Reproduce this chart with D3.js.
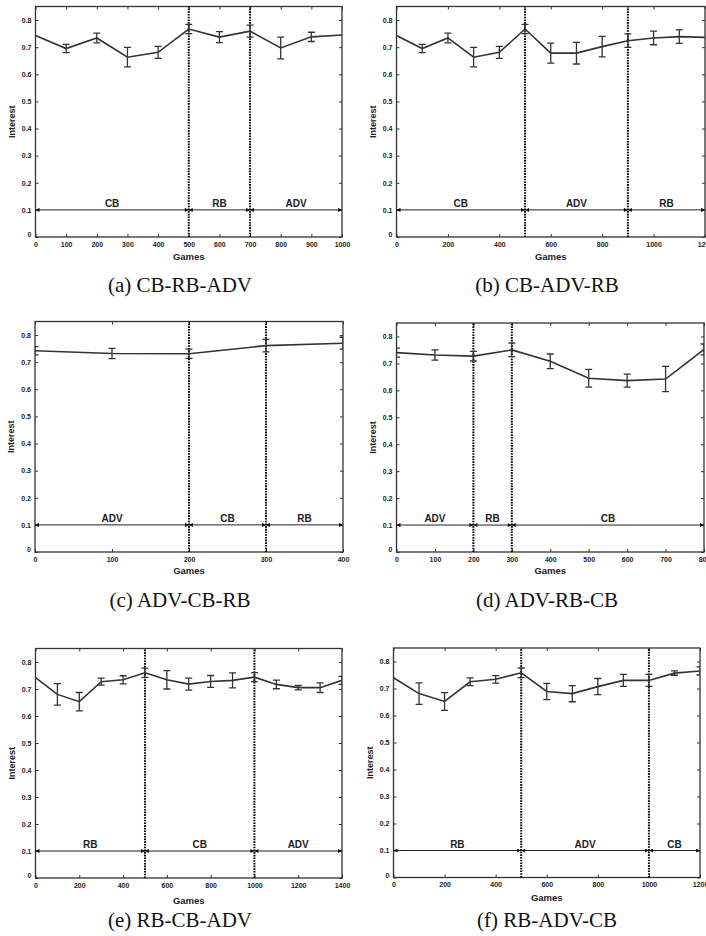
<!DOCTYPE html>
<html><head><meta charset="utf-8">
<script src="https://cdn.jsdelivr.net/npm/d3@7"></script>
<style>body{margin:0;background:#fff}svg{display:block}</style>
</head><body>
<svg id="c" width="706" height="936"></svg>
<script>
// ---------- data ----------
const yTicks = [0, 0.1, 0.2, 0.3, 0.4, 0.5, 0.6, 0.7, 0.8];
const yTickLabels = ["0", "0.1", "0.2", "0.3", "0.4", "0.5", "0.6", "0.7", "0.8"];
const captions = ["(a) CB-RB-ADV", "(b) CB-ADV-RB", "(c) ADV-CB-RB", "(d) ADV-RB-CB", "(e) RB-CB-ADV", "(f) RB-ADV-CB"];

// (a) CB-RB-ADV
const gamesA = [0, 100, 200, 300, 400, 500, 600, 700, 800, 900, 1000];
const interestA = [0.743, 0.695, 0.734, 0.663, 0.681, 0.767, 0.737, 0.759, 0.697, 0.738, 0.745];
const errA = [0, 0.015, 0.018, 0.036, 0.022, 0.017, 0.020, 0.022, 0.040, 0.017, 0];
const phasesA = ["CB", "RB", "ADV"];
const boundsA = [0, 500, 700, 1000];
const xTicksA = [0, 100, 200, 300, 400, 500, 600, 700, 800, 900, 1000];

// (b) CB-ADV-RB
const gamesB = [0, 100, 200, 300, 400, 500, 600, 700, 800, 900, 1000, 1100, 1200];
const interestB = [0.743, 0.695, 0.734, 0.663, 0.681, 0.767, 0.678, 0.678, 0.702, 0.724, 0.734, 0.739, 0.736];
const errB = [0, 0.015, 0.018, 0.036, 0.022, 0.017, 0.037, 0.040, 0.038, 0.025, 0.025, 0.025, 0];
const phasesB = ["CB", "ADV", "RB"];
const boundsB = [0, 500, 900, 1200];
const xTicksB = [0, 200, 400, 600, 800, 1000, 1200];

// (c) ADV-CB-RB
const gamesC = [0, 100, 200, 300, 400];
const interestC = [0.742, 0.732, 0.731, 0.761, 0.770];
const errC = [0.015, 0.019, 0.017, 0.023, 0.022];
const phasesC = ["ADV", "CB", "RB"];
const boundsC = [0, 200, 300, 400];
const xTicksC = [0, 100, 200, 300, 400];

// (d) ADV-RB-CB
const gamesD = [0, 100, 200, 300, 400, 500, 600, 700, 800];
const interestD = [0.740, 0.731, 0.727, 0.750, 0.708, 0.645, 0.636, 0.642, 0.752];
const errD = [0.017, 0.019, 0.018, 0.025, 0.027, 0.033, 0.024, 0.047, 0.02];
const phasesD = ["ADV", "RB", "CB"];
const boundsD = [0, 200, 300, 800];
const xTicksD = [0, 100, 200, 300, 400, 500, 600, 700, 800];

// (e) RB-CB-ADV
const gamesE = [0, 100, 200, 300, 400, 500, 600, 700, 800, 900, 1000, 1100, 1200, 1300, 1400];
const interestE = [0.742, 0.680, 0.653, 0.727, 0.734, 0.760, 0.734, 0.718, 0.728, 0.732, 0.744, 0.717, 0.705, 0.705, 0.732];
const errE = [0, 0.040, 0.034, 0.013, 0.015, 0.017, 0.034, 0.022, 0.022, 0.028, 0.017, 0.016, 0.008, 0.018, 0.015];
const phasesE = ["RB", "CB", "ADV"];
const boundsE = [0, 500, 1000, 1400];
const xTicksE = [0, 200, 400, 600, 800, 1000, 1200, 1400];

// (f) RB-ADV-CB
const gamesF = [0, 100, 200, 300, 400, 500, 600, 700, 800, 900, 1000, 1100, 1200];
const interestF = [0.740, 0.681, 0.652, 0.725, 0.734, 0.758, 0.689, 0.681, 0.707, 0.730, 0.730, 0.757, 0.765];
const errF = [0, 0.040, 0.033, 0.014, 0.014, 0.018, 0.030, 0.030, 0.030, 0.022, 0.022, 0.008, 0.015];
const phasesF = ["RB", "ADV", "CB"];
const boundsF = [0, 500, 1000, 1200];
const xTicksF = [0, 200, 400, 600, 800, 1000, 1200];

// ---------- layout ----------
const layout = [
  {l: 35.5, r: 342, t: 6.5, b: 237, cx: 180, gy: 260, capY: 292},
  {l: 396.5, r: 705, t: 6.5, b: 237, cx: 547, gy: 260, capY: 292},
  {l: 35, r: 343, t: 321.5, b: 552, cx: 180, gy: 573.5, capY: 607},
  {l: 396.5, r: 704, t: 323, b: 552, cx: 547, gy: 574, capY: 607},
  {l: 35.5, r: 342, t: 648.5, b: 878, cx: 180, gy: 903.5, capY: 927},
  {l: 393.5, r: 700, t: 648, b: 877.5, cx: 547, gy: 901, capY: 927}
];

const panels = [
  {x: gamesA, y: interestA, e: errA, ph: phasesA, bd: boundsA, xt: xTicksA},
  {x: gamesB, y: interestB, e: errB, ph: phasesB, bd: boundsB, xt: xTicksB},
  {x: gamesC, y: interestC, e: errC, ph: phasesC, bd: boundsC, xt: xTicksC},
  {x: gamesD, y: interestD, e: errD, ph: phasesD, bd: boundsD, xt: xTicksD},
  {x: gamesE, y: interestE, e: errE, ph: phasesE, bd: boundsE, xt: xTicksE},
  {x: gamesF, y: interestF, e: errF, ph: phasesF, bd: boundsF, xt: xTicksF}
];

const svg = d3.select("#c");
const defs = svg.append("defs");
defs.append("marker").attr("id", "arr")
  .attr("viewBox", "0 0 10 10").attr("refX", 10).attr("refY", 5)
  .attr("markerWidth", 5).attr("markerHeight", 4).attr("markerUnits", "userSpaceOnUse")
  .attr("orient", "auto-start-reverse")
  .append("path").attr("d", "M0,0L10,5L0,10Z").attr("fill", "#111");

const ink = "#333";
const sans = "'Liberation Sans', Arial, Helvetica, sans-serif";

panels.forEach((p, i) => {
  const L = layout[i];
  const xMax = p.bd[p.bd.length - 1];
  const x = d3.scaleLinear().domain([0, xMax]).range([L.l, L.r]);
  const y = d3.scaleLinear().domain([0, 0.85]).range([L.b, L.t]);
  const g = svg.append("g");

  const cid = "clip" + i;
  defs.append("clipPath").attr("id", cid).append("rect")
    .attr("x", L.l).attr("y", L.t).attr("width", L.r - L.l).attr("height", L.b - L.t);

  const fmtY = d => yTickLabels[yTicks.indexOf(d)];
  const axL = g.append("g").attr("transform", `translate(${L.l},0)`)
    .call(d3.axisLeft(y).tickValues(yTicks).tickFormat(fmtY).tickSizeInner(-3).tickSizeOuter(0).tickPadding(4));
  const axR = g.append("g").attr("transform", `translate(${L.r},0)`)
    .call(d3.axisRight(y).tickValues(yTicks).tickFormat("").tickSizeInner(-3).tickSizeOuter(0));
  const axB = g.append("g").attr("transform", `translate(0,${L.b})`)
    .call(d3.axisBottom(x).tickValues(p.xt).tickFormat(d3.format("d")).tickSizeInner(-3).tickSizeOuter(0).tickPadding(5));
  const axT = g.append("g").attr("transform", `translate(0,${L.t})`)
    .call(d3.axisTop(x).tickValues(p.xt).tickFormat("").tickSizeInner(-3).tickSizeOuter(0));
  [axL, axR, axB, axT].forEach(a => {
    a.select(".domain").remove();
    a.selectAll("line").attr("stroke", ink).attr("stroke-width", 1);
    a.selectAll("text").attr("font-family", sans).attr("font-size", 7)
      .attr("font-weight", "bold").attr("fill", "#222");
  });
  axL.selectAll(".tick").filter(d => d === 0).select("text").attr("dy", "-0.05em");

  g.append("rect").attr("x", L.l).attr("y", L.t).attr("width", L.r - L.l).attr("height", L.b - L.t)
    .attr("fill", "none").attr("stroke", ink).attr("stroke-width", 1.3);

  const ay = y(0.1);
  for (let k = 0; k < p.ph.length; k++) {
    const a = p.bd[k], b = p.bd[k + 1];
    g.append("line").attr("x1", x(a)).attr("x2", x(b)).attr("y1", ay).attr("y2", ay)
      .attr("stroke", "#222").attr("stroke-width", 1)
      .attr("marker-start", "url(#arr)").attr("marker-end", "url(#arr)");
    g.append("text").attr("x", (x(a) + x(b)) / 2).attr("y", ay - 3)
      .attr("text-anchor", "middle").attr("font-family", sans).attr("font-size", 10)
      .attr("font-weight", "bold").attr("fill", "#222").text(p.ph[k]);
  }

  p.bd.slice(1, -1).forEach(bv => {
    g.append("line").attr("x1", x(bv)).attr("x2", x(bv)).attr("y1", y(0)).attr("y2", y(0.85))
      .attr("stroke", "#000").attr("stroke-width", 2).attr("stroke-dasharray", "1.6,1.1");
  });

  const dg = g.append("g").attr("clip-path", `url(#${cid})`);
  const pts = p.x.map((v, j) => ({g: v, m: p.y[j], e: p.e[j]}));
  dg.append("path").datum(pts)
    .attr("d", d3.line().x(d => x(d.g)).y(d => y(d.m)))
    .attr("fill", "none").attr("stroke", ink).attr("stroke-width", 1.6);
  const eb = dg.selectAll(".eb").data(pts.filter(d => d.e > 0)).enter().append("g");
  const cw = 3.5;
  eb.append("line").attr("x1", d => x(d.g)).attr("x2", d => x(d.g))
    .attr("y1", d => y(d.m - d.e)).attr("y2", d => y(d.m + d.e));
  eb.append("line").attr("x1", d => x(d.g) - cw).attr("x2", d => x(d.g) + cw)
    .attr("y1", d => y(d.m - d.e)).attr("y2", d => y(d.m - d.e));
  eb.append("line").attr("x1", d => x(d.g) - cw).attr("x2", d => x(d.g) + cw)
    .attr("y1", d => y(d.m + d.e)).attr("y2", d => y(d.m + d.e));
  eb.selectAll("line").attr("stroke", ink).attr("stroke-width", 1.3);

  g.append("text").attr("x", (L.l + L.r) / 2).attr("y", L.gy).attr("text-anchor", "middle")
    .attr("font-family", sans).attr("font-size", 9.5).attr("font-weight", "bold").attr("fill", "#222")
    .text("Games");
  g.append("text").attr("transform", `translate(${L.l - 21},${(L.t + L.b) / 2}) rotate(-90)`)
    .attr("text-anchor", "middle").attr("font-family", sans).attr("font-size", 9)
    .attr("font-weight", "bold").attr("fill", "#222").text("Interest");

  svg.append("text").attr("x", L.cx).attr("y", L.capY).attr("text-anchor", "middle")
    .attr("font-family", "'Liberation Serif', 'Times New Roman', serif").attr("font-size", 21)
    .attr("fill", "#111").text(captions[i]);
});
</script>
</body></html>
